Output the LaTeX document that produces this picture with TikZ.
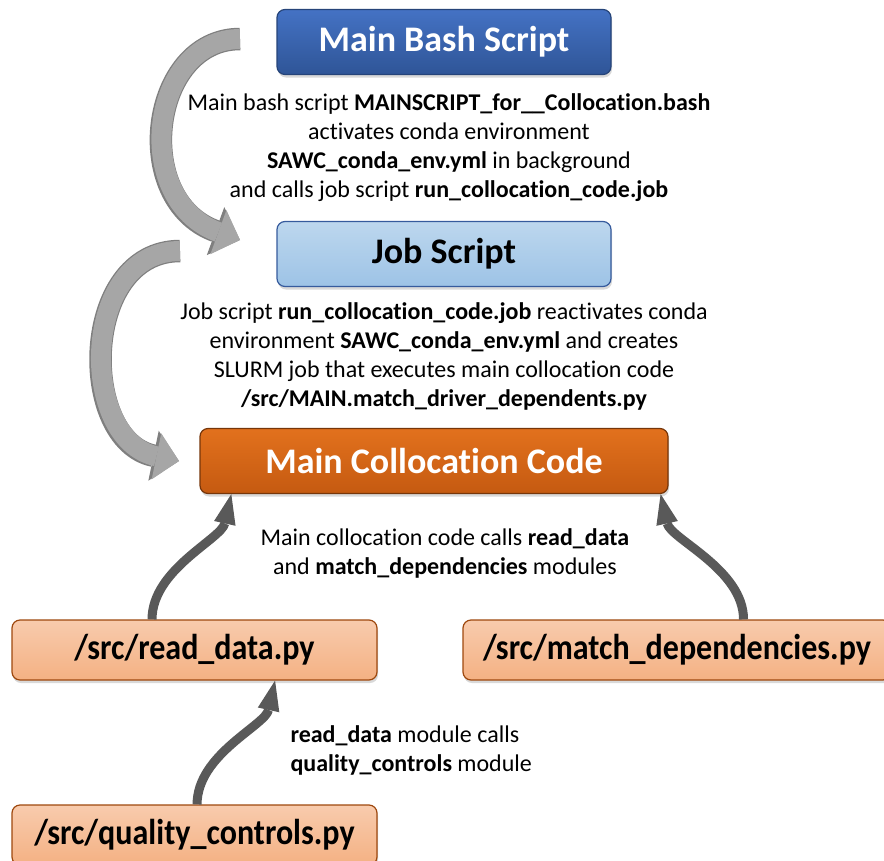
\documentclass[tikz,border=0pt]{standalone}
\usepackage{fontspec}
\setmainfont{Carlito}[Ligatures=NoCommon]
\newfontfamily\narrowfont{Carlito}[Ligatures=NoCommon,FakeStretch=0.89]
\usetikzlibrary{arrows.meta,shadows,calc}
\definecolor{bashblue}{HTML}{2F5597}
\definecolor{bashtop}{HTML}{4472C4}
\definecolor{jobblue}{HTML}{9DC3E6}
\definecolor{jobtop}{HTML}{BDD7EE}
\definecolor{mcorange}{HTML}{C55A11}
\definecolor{mctop}{HTML}{E2711D}
\definecolor{pyfill}{HTML}{F4B183}
\definecolor{pytop}{HTML}{F8CBAD}
\definecolor{curvegray}{HTML}{A6A6A6}
\definecolor{curveline}{HTML}{7F7F7F}
\definecolor{callgray}{HTML}{595959}
\begin{document}
\begin{tikzpicture}[x=1pt,y=-1pt,
	box/.style={rounded corners=8pt, line width=1.2pt, align=center,
		drop shadow={shadow xshift=1pt,shadow yshift=-3pt,opacity=0.3}},
	bashbox/.style={box, draw=bashblue!80!black, top color=bashtop, bottom color=bashblue,
		minimum width=334pt, minimum height=65pt, text=white, font=\fontsize{36}{40}\selectfont\bfseries},
	jobbox/.style={box, draw=bashtop!80!black, top color=jobtop, bottom color=jobblue,
		minimum width=334pt, minimum height=65pt, font=\fontsize{36}{40}\selectfont\bfseries},
	mcbox/.style={box, draw=mcorange!60!black, top color=mctop, bottom color=mcorange,
		minimum width=468pt, minimum height=65pt, text=white, font=\fontsize{36}{40}\selectfont\bfseries},
	pybox/.style={box, draw=mcorange!80!black, top color=pytop, bottom color=pyfill,
		minimum height=60pt, font=\narrowfont\fontsize{36}{40}\selectfont\bfseries},
	note/.style={align=center, font=\fontsize{24}{29}\selectfont},
	bigcurve/.style={draw=curvegray, line width=20pt,
		-{Triangle[width=47pt,length=23pt,line width=0pt]},
		preaction={draw=curveline, line width=22.5pt,
			-{Triangle[width=51pt,length=26pt,line width=0pt]}}},
	callarrow/.style={draw=callgray, line width=9pt,
		-{Triangle[width=22pt,length=30pt,line width=0pt]}}]
	\useasboundingbox (0,0) rectangle (884,860);

	\node[bashbox] (bash) at (444,42) {Main Bash Script};
	\node[jobbox] (job) at (444,254) {Job Script};
	\node[mcbox] (mc) at (434,461) {Main Collocation Code};
	\node[pybox, minimum width=365pt] (rd) at (194.5,650) {/src/read\_data.py};
	\node[pybox, minimum width=428pt] (md) at (677,650) {/src/match\_dependencies.py};
	\node[pybox, minimum width=365pt] (qc) at (194.5,835) {/src/quality\_controls.py};

	\node[note] (bashnote) at (449,148) {Main bash script \textbf{MAINSCRIPT\_for\_\_Collocation.bash}\\
		activates conda environment\\
		\textbf{SAWC\_conda\_env.yml} in background\\
		and calls job script \textbf{run\_collocation\_code.job}};
	\node[note] (jobnote) at (444,356) {Job script \textbf{run\_collocation\_code.job} reactivates conda\\
		environment \textbf{SAWC\_conda\_env.yml} and creates\\
		SLURM job that executes main collocation code\\
		\textbf{/src/MAIN.match\_driver\_dependents.py}};
	\node[note] (mcnote) at (445,553) {Main collocation code calls \textbf{read\_data}\\
		and \textbf{match\_dependencies} modules};
	\node[note, align=left, anchor=west] (rdnote) at (287,750) {\textbf{read\_data} module calls\\
		\textbf{quality\_controls} module};

	\coordinate (tailA) at (240,39);
	\coordinate (tipA) at (240,240);
	\coordinate (tailB) at (180,251);
	\coordinate (tipB) at (179,461);
	\draw[bigcurve] (tailA) .. controls (150,39) and (130,200) .. (tipA);
	\draw[bigcurve] (tailB) .. controls (80,251) and (78,440) .. (tipB);

	\draw[callarrow] ($(rd.north west)!0.384!(rd.north east)$) .. controls +(0,-50) and +(-10,45) .. ($(mc.south west)!0.068!(mc.south east)$);
	\draw[callarrow] ($(md.north west)!0.655!(md.north east)$) .. controls +(0,-50) and +(10,45) .. ($(mc.south west)!0.983!(mc.south east)$);
	\draw[callarrow] ($(qc.north west)!0.507!(qc.north east)$) .. controls +(0,-50) and +(-10,45) .. ($(rd.south west)!0.72!(rd.south east)$);
\end{tikzpicture}
\end{document}
